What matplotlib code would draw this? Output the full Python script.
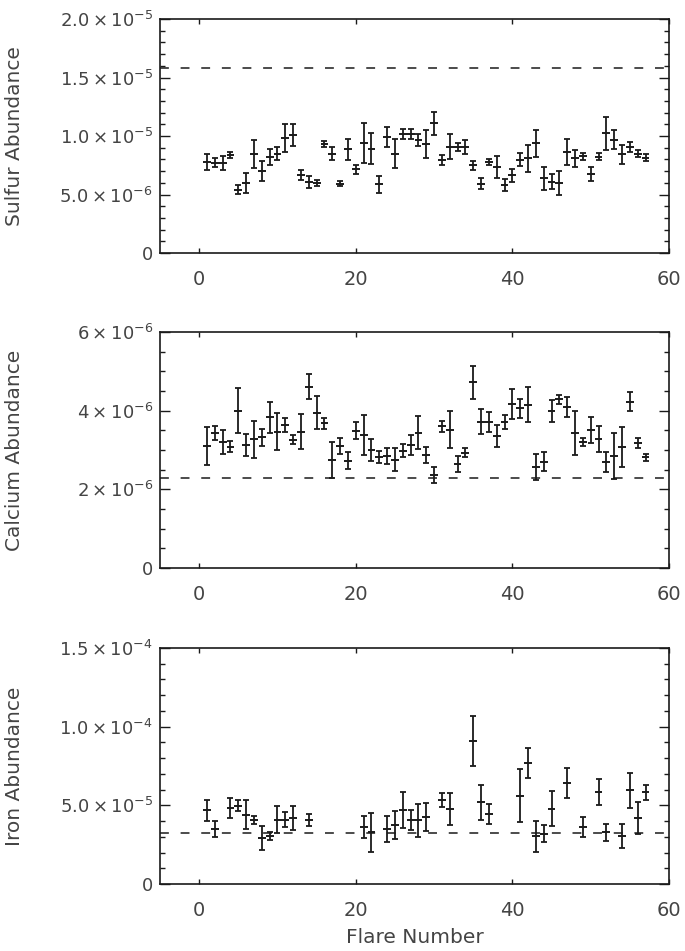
import numpy as np
import matplotlib
matplotlib.use('Agg')
import matplotlib.pyplot as plt
from matplotlib.ticker import MultipleLocator, FixedLocator

nan = np.nan
# flare index
flare = np.arange(1, 58)

# sulfur abundance (units of 1e-6) and 1-sigma errors
sulfur = [7.79, 7.70, 7.70, 8.36, 5.42, 6.00, 8.50, 7.00, 8.20, 8.50,
          9.79, 10.07, 6.65, 6.08, 5.99, 9.30, 8.50, 5.94, 8.85, 7.14,
          9.41, 8.93, 5.88, 9.93, 8.50, 10.20, 10.20, 9.65, 9.30, 11.07,
          7.93, 9.07, 9.07, 9.07, 7.50, 5.94, 7.79, 7.36, 5.79, 6.65,
          7.99, 8.08, 9.36, 6.37, 6.08, 5.99, 8.65, 8.08, 8.27, 6.74,
          8.22, 10.22, 9.70, 8.45, 9.07, 8.50, 8.16]
sulfur_err = [0.71, 0.39, 0.60, 0.28, 0.36, 0.88, 1.20, 0.88, 0.71, 0.57,
              1.20, 0.94, 0.43, 0.54, 0.26, 0.28, 0.57, 0.20, 0.86, 0.38,
              1.71, 1.36, 0.71, 0.86, 1.24, 0.43, 0.43, 0.50, 1.20, 0.96,
              0.43, 1.07, 0.31, 0.60, 0.40, 0.47, 0.28, 0.94, 0.50, 0.57,
              0.57, 1.14, 1.14, 1.00, 0.64, 1.00, 1.10, 0.71, 0.31, 0.60,
              0.31, 1.43, 0.83, 0.81, 0.43, 0.31, 0.33]

# calcium abundance (units of 1e-6)
calcium = [3.10, 3.44, 3.21, 3.08, 4.00, 3.13, 3.27, 3.32, 3.83, 3.47,
           3.64, 3.26, 3.47, 4.61, 3.95, 3.68, 2.75, 3.10, 2.73, 3.49,
           3.38, 3.00, 2.83, 2.85, 2.75, 2.98, 3.13, 3.44, 2.87, 2.36,
           3.61, 3.51, 2.64, 2.93, 4.72, 3.72, 3.72, 3.36, 3.72, 4.17,
           4.06, 4.15, 2.56, 2.70, 3.98, 4.29, 4.10, 3.43, 3.21, 3.51,
           3.27, 2.70, 2.85, 3.07, 4.23, 3.17, 2.81]
calcium_err = [0.49, 0.18, 0.31, 0.14, 0.58, 0.27, 0.47, 0.21, 0.40, 0.48,
               0.17, 0.11, 0.44, 0.32, 0.42, 0.14, 0.45, 0.21, 0.22, 0.22,
               0.51, 0.28, 0.15, 0.20, 0.29, 0.17, 0.25, 0.42, 0.21, 0.21,
               0.14, 0.47, 0.20, 0.11, 0.42, 0.31, 0.25, 0.28, 0.18, 0.39,
               0.24, 0.45, 0.33, 0.24, 0.28, 0.11, 0.25, 0.55, 0.10, 0.32,
               0.33, 0.25, 0.59, 0.51, 0.25, 0.13, 0.10]

# iron abundance (units of 1e-5), nan where no measurement
iron = [4.68, 3.49, nan, 4.83, 4.98, 4.41, 4.05, 2.92, 3.03, 4.09,
        4.09, 4.19, nan, 4.05, nan, nan, nan, nan, nan, nan,
        3.62, 3.28, nan, 3.49, 3.77, 4.72, 4.09, 4.05, 4.26, nan,
        5.36, 4.77, nan, nan, 9.10, 5.19, 4.47, nan, nan, nan,
        5.61, 7.69, 3.03, 3.20, 4.77, nan, 6.42, nan, 3.62, nan,
        5.82, 3.28, nan, 3.03, 5.95, 4.19, 5.82]
iron_err = [0.69, 0.53, nan, 0.64, 0.35, 0.92, 0.25, 0.74, 0.25, 0.85,
            0.48, 0.74, nan, 0.39, nan, nan, nan, nan, nan, nan,
            0.68, 1.22, nan, 0.83, 0.88, 1.14, 0.64, 1.04, 0.92, nan,
            0.45, 1.00, nan, nan, 1.60, 1.11, 0.64, nan, nan, nan,
            1.70, 0.95, 1.00, 0.53, 1.11, nan, 0.95, nan, 0.64, nan,
            0.83, 0.56, nan, 0.77, 1.12, 1.02, 0.45]

# reference (dashed) levels
sulfur_ref = 1.58e-5
calcium_ref = 2.29e-6
iron_ref = 3.24e-5

panels = [
    ('Sulfur Abundance', np.array(sulfur) * 1e-6, np.array(sulfur_err) * 1e-6, sulfur_ref,
     2.0e-5, 1e-6, [0, 5e-6, 1e-5, 1.5e-5, 2e-5],
     ['0', r'$5.0\times10^{-6}$', r'$1.0\times10^{-5}$', r'$1.5\times10^{-5}$', r'$2.0\times10^{-5}$']),
    ('Calcium Abundance', np.array(calcium) * 1e-6, np.array(calcium_err) * 1e-6, calcium_ref,
     6e-6, 5e-7, [0, 2e-6, 4e-6, 6e-6],
     ['0', r'$2\times10^{-6}$', r'$4\times10^{-6}$', r'$6\times10^{-6}$']),
    ('Iron Abundance', np.array(iron) * 1e-5, np.array(iron_err) * 1e-5, iron_ref,
     1.5e-4, 1e-5, [0, 5e-5, 1e-4, 1.5e-4],
     ['0', r'$5.0\times10^{-5}$', r'$1.0\times10^{-4}$', r'$1.5\times10^{-4}$']),
]

W, H = 685, 951
fig = plt.figure(figsize=(W / 100, H / 100), dpi=100)
tcol = '#444444'
lcol = '#1a1a1a'
plt.rcParams['mathtext.fontset'] = 'dejavusans'

# axes boxes in pixels (top, bottom)
boxes = [(19, 253), (332, 568), (648, 884)]
left, right = 160, 669

for (label, y, yerr, ref, ymax, minor, yt, ytl), (top, bot) in zip(panels, boxes):
    ax = fig.add_axes([left / W, 1 - bot / H, (right - left) / W, (bot - top) / H])
    ax.errorbar(flare, y, yerr=yerr, fmt='none', ecolor=lcol, elinewidth=1.3,
                capsize=2.2, capthick=1.3)
    ax.errorbar(flare, y, xerr=0.5, fmt='none', ecolor=lcol, elinewidth=1.4, capsize=0)
    ax.axhline(ref, color=lcol, lw=1.1, ls=(0, (5.8, 7.7)))
    ax.set_xlim(-5, 60)
    ax.set_ylim(0, ymax)
    ax.xaxis.set_major_locator(FixedLocator([0, 20, 40, 60]))
    ax.yaxis.set_major_locator(FixedLocator(yt))
    ax.set_yticklabels(ytl)
    ax.yaxis.set_minor_locator(MultipleLocator(minor))
    ax.tick_params(axis='both', which='both', direction='in', top=True, right=True,
                   colors=lcol, labelcolor=tcol, labelsize=13)
    ax.tick_params(axis='y', which='major', length=7.2, width=1, pad=5)
    ax.tick_params(axis='y', which='minor', length=3.6, width=1)
    ax.tick_params(axis='x', which='major', length=3.6, width=1, pad=12, labelsize=14)
    for s in ax.spines.values():
        s.set_linewidth(1.2)
        s.set_color(lcol)
    ax.set_ylabel(label, fontsize=14.5, color=tcol)
    ax.yaxis.set_label_coords((24 - left) / (right - left), 0.5)

ax.set_xlabel('Flare Number', fontsize=14.5, color=tcol)
ax.xaxis.set_label_coords(0.5, (bot - 928) / (bot - top))

fig.savefig('out.png', dpi=100)
